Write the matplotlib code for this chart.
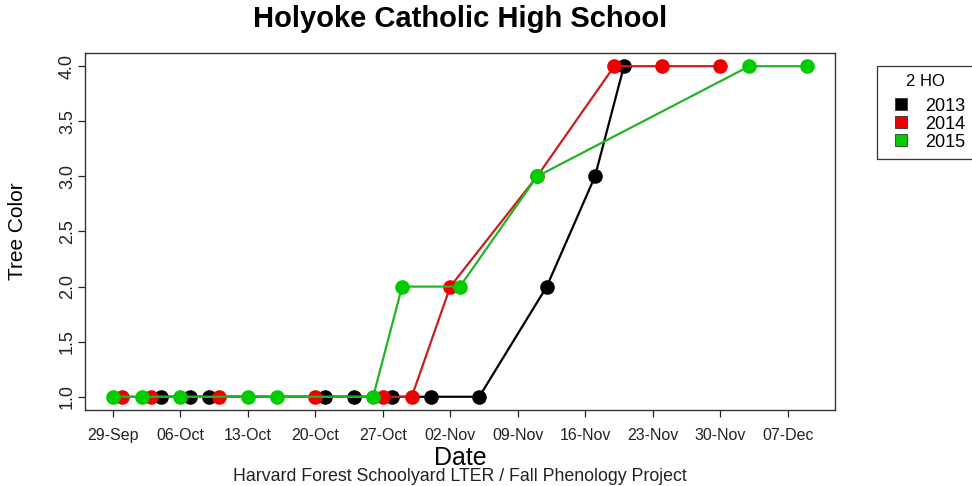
import pandas as pd
import matplotlib
matplotlib.use('Agg')
import matplotlib.pyplot as plt
from matplotlib.lines import Line2D

plt.rcParams['font.family'] = ['Liberation Sans', 'DejaVu Sans']

# Observation dates (month-day, all years on one season axis) and tree colour
dates_2013 = ['10-04', '10-07', '10-09', '10-21', '10-24', '10-28', '11-01',
              '11-06', '11-13', '11-18', '11-21']
color_2013 = [1, 1, 1, 1, 1, 1, 1, 1, 2, 3, 4]

dates_2014 = ['09-30', '10-03', '10-10', '10-20', '10-27', '10-30', '11-03',
              '11-12', '11-20', '11-25', '12-01']
color_2014 = [1, 1, 1, 1, 1, 1, 2, 3, 4, 4, 4]

dates_2015 = ['09-29', '10-02', '10-06', '10-13', '10-16', '10-26', '10-29',
              '11-04', '11-12', '12-04', '12-10']
color_2015 = [1, 1, 1, 1, 1, 1, 2, 2, 3, 4, 4]

tick_labels = ['29-Sep', '06-Oct', '13-Oct', '20-Oct', '27-Oct', '02-Nov',
               '09-Nov', '16-Nov', '23-Nov', '30-Nov', '07-Dec']
y_ticks = [1.0, 1.5, 2.0, 2.5, 3.0, 3.5, 4.0]

start = pd.Timestamp('2001-09-29')


def to_days(md):
    d = pd.to_datetime(['2001-' + s for s in md])
    return (d - start).days


series = [
    ('2013', dates_2013, color_2013, 'black', 'black'),
    ('2014', dates_2014, color_2014, '#ee0000', '#c81e1e'),
    ('2015', dates_2015, color_2015, '#00cc00', '#22b422'),
]

fig = plt.figure(figsize=(9.72, 4.86), dpi=100)
ax = fig.add_axes([0.0874, 0.1564, 0.7716, 0.7346])

for i, (name, md, vals, mcol, lcol) in enumerate(series):
    x = to_days(md)
    ax.plot(x, vals, color=lcol, lw=1.6, zorder=2 + i)
    ax.plot(x, vals, 'o', color=mcol, ms=9.5, zorder=2 + i)

ax.set_xlim(-2.88, 74.88)
ax.set_ylim(0.88, 4.12)
ax.set_xticks(range(0, 71, 7))
ax.set_xticklabels(tick_labels)
ax.set_yticks(y_ticks)
ax.set_yticklabels(['%.1f' % v for v in y_ticks], rotation=90, va='center')
ax.tick_params(axis='x', direction='out', length=5, width=0.9, pad=8,
               labelsize=11.5, colors='#222222')
ax.tick_params(axis='y', direction='out', length=5, width=0.9, pad=1.5,
               labelsize=13, colors='#222222')
for s in ax.spines.values():
    s.set_linewidth(1.0)
    s.set_color('#333333')

fig.text(0.4733, 0.961, 'Holyoke Catholic High School', ha='center',
         va='center', fontsize=21, fontweight='bold')
fig.text(0.4733, 0.058, 'Date', ha='center', va='center', fontsize=18)
fig.text(0.4733, 0.019, 'Harvard Forest Schoolyard LTER / Fall Phenology Project',
         ha='center', va='center', fontsize=12.8, color='#222222')
fig.text(0.0185, 0.525, 'Tree Color', ha='center', va='center',
         rotation=90, fontsize=15)

handles = [Line2D([], [], marker='s', ls='none', ms=8, markerfacecolor=mcol,
                  markeredgecolor='#333333', markeredgewidth=0.6)
           for _, _, _, mcol, _ in series]
leg = fig.legend(handles, [s[0] for s in series], title='2 HO\n',
                 loc='upper left', bbox_to_anchor=(0.902, 0.864),
                 fontsize=13, title_fontsize=12, frameon=True, fancybox=False,
                 edgecolor='black', handlelength=1.8, handletextpad=0.45,
                 labelspacing=0.06, borderpad=0.45, borderaxespad=0)
leg.get_title().set_linespacing(0.35)
leg.get_frame().set_linewidth(0.9)

plt.savefig('out.png', dpi=100)
